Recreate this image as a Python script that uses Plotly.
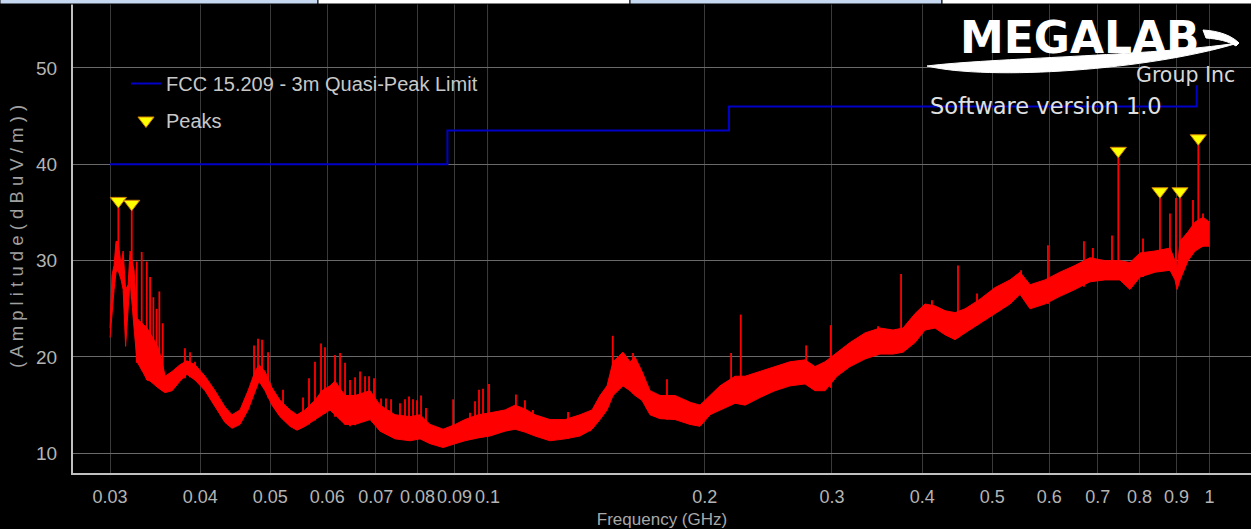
import plotly.graph_objects as go

# ---------------- data ----------------
# noise-floor envelope of the measured spectrum (GHz, dBuV/m)
env_freq = [0.03000, 0.03019, 0.03039, 0.03058, 0.03078, 0.03108, 0.03128, 0.03153, 0.03178, 0.03198,
            0.03239, 0.03270, 0.03323, 0.03376, 0.03409, 0.03464, 0.03497, 0.03542, 0.03576, 0.03657,
            0.03751, 0.03835, 0.03934, 0.04062, 0.04193, 0.04329, 0.04427, 0.04541, 0.04659, 0.04764,
            0.04825, 0.04918, 0.05029, 0.05159, 0.05326, 0.05446, 0.05587, 0.05768, 0.05898, 0.06050,
            0.06149, 0.06348, 0.06554, 0.06876, 0.07099, 0.07446, 0.07811, 0.08064, 0.08326, 0.08680,
            0.09020, 0.09303, 0.09701, 0.10080, 0.10574, 0.10917, 0.11268, 0.11633, 0.12202, 0.12805,
            0.13432, 0.13956, 0.14316, 0.14639, 0.14922, 0.15404, 0.15752, 0.16005, 0.16366, 0.16789,
            0.17333, 0.18184, 0.19074, 0.19693, 0.20331, 0.20990, 0.22019, 0.22733, 0.23847, 0.25015,
            0.26240, 0.27528, 0.28419, 0.29341, 0.30485, 0.31777, 0.33333, 0.34966, 0.36446, 0.37628,
            0.39096, 0.40364, 0.41673, 0.43025, 0.44420, 0.45862, 0.48100, 0.50453, 0.52921, 0.54647,
            0.56421, 0.59168, 0.62063, 0.65099, 0.68283, 0.71623, 0.75128, 0.77592, 0.80138, 0.84058,
            0.88170, 0.89586, 0.90158, 0.91030, 0.93378, 0.95484, 0.97949, 1.00000]
env_upper = [23.0, 28.5, 29.5, 32.0, 32.0, 29.5, 31.0, 27.0, 27.5, 31.0,
             29.0, 24.0, 23.5, 23.0, 22.5, 21.5, 21.0, 19.5, 18.0, 18.5,
             19.2, 19.6, 19.2, 18.0, 16.5, 14.8, 14.0, 14.5, 16.5, 18.5,
             19.2, 18.5, 16.8, 15.5, 14.5, 14.0, 14.5, 15.5, 16.5, 17.0,
             17.5, 16.0, 16.0, 16.5, 15.0, 14.0, 13.8, 14.0, 13.0, 12.5,
             13.0, 13.5, 14.0, 14.2, 14.5, 15.0, 14.6, 14.0, 13.5, 13.5,
             14.0, 14.5, 16.0, 17.0, 19.5, 20.5, 19.5, 20.0, 18.5, 16.5,
             16.0, 16.0, 15.3, 15.0, 16.0, 17.0, 18.0, 18.0, 18.5, 19.0,
             19.5, 19.7, 19.0, 19.5, 20.5, 21.5, 22.5, 23.0, 22.8, 23.0,
             24.5, 25.5, 25.3, 24.8, 24.6, 25.0, 26.0, 27.2, 28.0, 28.8,
             27.5, 28.0, 28.8, 29.5, 30.3, 30.0, 30.0, 29.8, 30.8, 31.0,
             31.3, 30.0, 29.0, 32.0, 33.0, 34.0, 34.5, 34.0]
env_lower = [22.0, 25.0, 27.0, 28.8, 29.0, 28.0, 27.0, 21.1, 25.0, 28.0,
             23.0, 19.5, 18.6, 17.6, 17.5, 17.0, 16.8, 16.5, 16.3, 16.5,
             17.5, 18.2, 17.6, 16.5, 14.8, 13.2, 12.6, 13.0, 14.5, 16.5,
             17.5, 16.5, 15.0, 13.8, 12.8, 12.4, 12.8, 13.5, 14.0, 14.5,
             14.0, 13.0, 13.0, 13.5, 12.3, 11.5, 11.3, 11.5, 11.0, 10.6,
             11.0, 11.3, 11.6, 11.8, 12.3, 12.5, 12.2, 11.8, 11.3, 11.5,
             11.8, 12.5, 13.5, 14.5, 16.0, 17.0, 16.5, 16.0, 15.5, 14.0,
             13.6, 13.5, 13.0, 12.8, 14.0, 14.5, 15.2, 15.0, 15.8, 16.5,
             17.0, 17.2, 16.5, 16.5, 18.0, 19.0, 19.8, 20.3, 20.3, 20.5,
             21.5, 22.8, 23.0, 22.3, 21.8, 22.5, 23.5, 24.5, 25.5, 26.5,
             25.0, 25.5, 26.3, 27.0, 27.8, 28.0, 28.0, 27.0, 28.3, 28.8,
             29.0, 28.0, 27.0, 28.0, 30.0, 31.0, 31.5, 31.5]

# narrow emission spikes rising out of the noise floor
spike_freq = [0.03267, 0.03319, 0.03373, 0.03409, 0.03445, 0.03480, 0.03511, 0.03549,
              0.03810, 0.03872, 0.03934, 0.04749, 0.04810, 0.04872, 0.04966, 0.05209, 0.05552, 0.05659,
              0.05768, 0.05880, 0.05955, 0.06149, 0.06248, 0.06348, 0.06450, 0.06554, 0.06659, 0.06766,
              0.06853, 0.06963, 0.07120, 0.07234, 0.07351, 0.07564, 0.07686, 0.07785, 0.07885, 0.07986,
              0.08089, 0.08219, 0.08962, 0.09457, 0.09609, 0.09732, 0.09857, 0.10048, 0.10949, 0.11268,
              0.11559, 0.12929, 0.13867, 0.14910, 0.15404, 0.15903, 0.17724, 0.21746, 0.22429, 0.27627,
              0.29879, 0.34752, 0.37393, 0.41267, 0.44836, 0.47643, 0.54823, 0.59738, 0.67004, 0.68953,
              0.73275, 0.80893, 0.88153, 0.89856, 0.94874, 0.97949]
spike_top = [29.9, 30.9, 29.9, 28.3, 26.2, 25.0, 26.8, 23.5,
             20.9, 20.5, 19.5, 21.2, 21.9, 21.8, 20.5, 16.6, 15.8, 17.8,
             19.5, 21.4, 21.0, 20.2, 20.4, 19.4, 17.6, 17.9, 18.5, 18.0,
             18.0, 17.8, 15.7, 15.7, 15.6, 15.2, 15.6, 15.9, 15.6, 15.5,
             16.0, 14.7, 15.6, 14.2, 15.4, 16.6, 16.7, 17.2, 16.1, 15.5,
             14.5, 14.3, 14.0, 22.2, 20.4, 20.4, 17.7, 20.4, 24.4, 21.2,
             23.3, 23.2, 28.6, 25.9, 29.5, 26.6, 29.0, 31.6, 32.0, 31.3,
             32.6, 32.3, 34.9, 36.5, 36.3, 34.9]
spike_base = [19.4, 18.6, 17.6, 17.6, 17.3, 17.0, 17.0, 16.5,
              17.8, 17.9, 17.6, 16.5, 17.4, 17.0, 15.8, 13.8, 12.7, 13.0,
              13.4, 13.9, 14.1, 13.8, 13.5, 13.0, 12.8, 12.9, 13.2, 13.4,
              13.5, 13.3, 12.4, 12.0, 11.7, 11.5, 11.4, 11.3, 11.4, 11.5,
              11.5, 11.2, 11.0, 11.4, 11.5, 11.6, 11.7, 11.8, 12.5, 12.2,
              11.9, 11.5, 12.3, 16.0, 17.0, 16.2, 13.5, 15.0, 15.3, 17.2,
              16.8, 20.3, 20.4, 23.0, 22.0, 23.3, 26.5, 25.5, 27.3, 27.8,
              28.0, 28.3, 29.0, 28.0, 31.0, 31.5]

# detected peaks (marked with triangles)
peak_freq = [0.03081, 0.03215, 0.74761, 0.85384, 0.91016, 0.96491]
peak_amp = [36.2, 35.9, 41.4, 37.2, 37.2, 42.7]
peak_base = [29.0, 26.0, 28.0, 29.0, 28.5, 31.5]

# FCC 15.209 3 m quasi-peak limit (step function)
limit_freq = [0.030, 0.088, 0.216, 0.960]
limit_db = [40.0, 43.5, 46.0, 48.2]

x_tickvals = [0.03, 0.04, 0.05, 0.06, 0.07, 0.08, 0.09, 0.1, 0.2, 0.3, 0.4, 0.5, 0.6, 0.7, 0.8, 0.9, 1]
x_ticktext = ["0.03", "0.04", "0.05", "0.06", "0.07", "0.08", "0.09", "0.1", "0.2", "0.3",
              "0.4", "0.5", "0.6", "0.7", "0.8", "0.9", "1"]
y_tickvals = [10, 20, 30, 40, 50]

# ---------------- figure ----------------
W, H = 1251, 529
ML, MR, MT, MB = 73, 0, 0, 56
PW, PH = W - ML - MR, H - MT - MB


def px(x):  # pixel -> paper (decorations only)
    return (x - ML) / PW


def py(y):
    return (MT + PH - y) / PH


RED = "#ff0000"
fig = go.Figure()

fig.add_trace(go.Scatter(x=env_freq, y=env_lower, mode="lines",
                         line=dict(color=RED, width=1), showlegend=False, hoverinfo="skip"))
fig.add_trace(go.Scatter(x=env_freq, y=env_upper, mode="lines", fill="tonexty",
                         fillcolor=RED, line=dict(color=RED, width=1), showlegend=False,
                         hoverinfo="skip"))

sx, sy = [], []
for f, b, t in zip(spike_freq + peak_freq, spike_base + peak_base, spike_top + peak_amp):
    sx += [f, f, None]
    sy += [b, t, None]
fig.add_trace(go.Scatter(x=sx, y=sy, mode="lines", line=dict(color=RED, width=1.8),
                         showlegend=False, hoverinfo="skip"))

fig.add_trace(go.Scatter(x=limit_freq, y=limit_db, mode="lines", line_shape="hv",
                         line=dict(color="#0000c8", width=2),
                         name="FCC 15.209 - 3m Quasi-Peak Limit",
                         legendgroup="a", legendrank=1))
fig.add_trace(go.Scatter(x=peak_freq, y=peak_amp, mode="markers", name="Peaks",
                         marker=dict(symbol="triangle-down", size=14, color="#ffff00",
                                     line=dict(color="#d08000", width=1)),
                         legendgroup="b", legendrank=2))

shapes = []
# brighter gridline at 0.1 GHz
shapes.append(dict(type="line", xref="x", yref="paper", x0=0.1, x1=0.1, y0=0, y1=1,
                   line=dict(color="#a0a0a0", width=1), layer="below"))
# tab strip at the very top of the window
tabs = [(0, 318, "#c6d9f1"), (318, 630, "#ffffff"), (630, 942, "#c6d9f1"), (942, 1252, "#ffffff")]
for x0, x1, c in tabs:
    shapes.append(dict(type="rect", xref="paper", yref="paper", x0=px(x0), x1=px(x1),
                       y0=py(4), y1=py(-1), fillcolor=c, line=dict(color="#000000", width=1),
                       layer="above"))


def path(points_cmds):
    out = []
    for cmd, pts in points_cmds:
        out.append(cmd + " " + " ".join(f"{px(a):.5f},{py(b):.5f}" for a, b in pts))
    return " ".join(out) + " Z"


swoosh = path([("M", [(927, 66)]),
               ("C", [(990, 81), (1150, 70), (1238, 43)]),
               ("C", [(1150, 56), (990, 58), (927, 66)])])
hook = path([("M", [(1203, 30)]),
             ("C", [(1220, 31), (1232, 36), (1239, 43)]),
             ("L", [(1236, 46)]),
             ("C", [(1228, 41), (1218, 39), (1206, 38)])])
for p in (swoosh, hook):
    shapes.append(dict(type="path", xref="paper", yref="paper", path=p,
                       fillcolor="#ffffff", line=dict(color="#ffffff", width=1), layer="above"))

annotations = [
    dict(text="<b>MEGALAB</b>", xref="paper", yref="paper", x=px(1080), y=py(37),
         xanchor="center", yanchor="middle", showarrow=False,
         font=dict(family="DejaVu Sans", size=44, color="#ffffff")),
    dict(text="Group Inc", xref="paper", yref="paper", x=px(1237), y=py(75),
         xanchor="right", yanchor="middle", showarrow=False,
         font=dict(family="DejaVu Sans", size=20.5, color="#d8d8d8")),
    dict(text="Software version 1.0", xref="paper", yref="paper", x=px(928), y=py(106),
         xanchor="left", yanchor="middle", showarrow=False,
         font=dict(family="DejaVu Sans", size=22.5, color="#e0e0e0")),
]

fig.update_layout(
    width=W, height=H,
    margin=dict(l=ML, r=MR, t=MT, b=MB, autoexpand=False),
    paper_bgcolor="#000000", plot_bgcolor="#000000",
    font=dict(family="Liberation Sans", size=18, color="#b4b4b4"),
    showlegend=True,
    legend=dict(x=px(126), y=py(64), xanchor="left", yanchor="top",
                bgcolor="rgba(0,0,0,0)", traceorder="grouped", tracegroupgap=8,
                font=dict(family="Liberation Sans", size=20, color="#c8c8c8")),
    shapes=shapes,
    annotations=annotations,
    xaxis=dict(type="log", range=[-1.57415, 0.05748], tickvals=x_tickvals, ticktext=x_ticktext,
               showgrid=True, gridcolor="#3a3a3a", gridwidth=1, zeroline=False, automargin=False,
               showline=True, linecolor="#c0c0c0", linewidth=2, ticks="", tickangle=0,
               ticklabelstandoff=6, tickfont=dict(size=18, color="#b4b4b4"),
               title=dict(text="Frequency (GHz)", standoff=8,
                          font=dict(size=17, color="#a8a8a8"))),
    yaxis=dict(range=[7.956, 57.054], tickvals=y_tickvals, automargin=False,
               showgrid=True, gridcolor="#6a6a6a", gridwidth=1, zeroline=False,
               showline=True, linecolor="#c0c0c0", linewidth=2, ticks="",
               ticklabelstandoff=10, tickfont=dict(size=19, color="#b4b4b4"),
               title=dict(text="( A m p l i t u d e ( d B u V / m ) )", standoff=8,
                          font=dict(size=18.5, color="#a0a0a0"))),
)

fig.write_html("out.html", config={"displayModeBar": False},
               post_script="document.body.style.margin='0';document.body.style.background='#000';")
